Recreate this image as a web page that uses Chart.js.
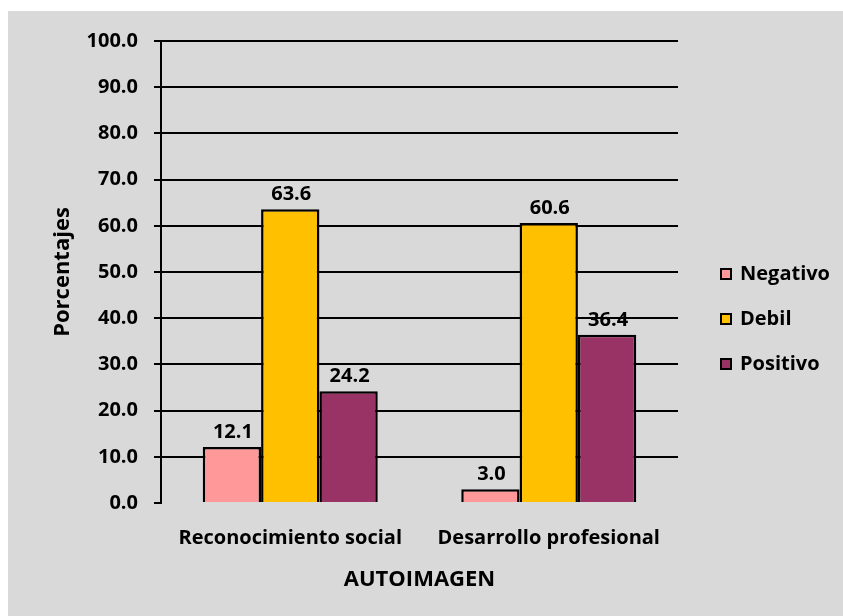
<!DOCTYPE html>
<html><head><meta charset="utf-8">
<script src="https://cdn.jsdelivr.net/npm/chart.js@4/dist/chart.umd.min.js"></script>
<style>html,body{margin:0;padding:0;background:#fff;}#wrap{width:843px;height:616px;}</style>
</head><body><div id="wrap"><canvas id="c" width="843" height="616"></canvas></div>
<script>
const categories = ['Reconocimiento social', 'Desarrollo profesional'];
const negativo = [12.1, 3.0];
const debil = [63.6, 60.6];
const positivo = [24.2, 36.4];
const seriesNames = ['Negativo', 'Debil', 'Positivo'];
const seriesColors = ['#FF9999', '#FFC000', '#993366'];
const yTicks = [0, 10, 20, 30, 40, 50, 60, 70, 80, 90, 100];
const FONT = '"Open Sans"';
const FS = 20;

const bgPlugin = {
  id: 'bg',
  beforeDraw(chart) {
    const ctx = chart.ctx;
    ctx.save();
    ctx.fillStyle = '#D9D9D9';
    ctx.fillRect(8, 11, chart.width - 8, chart.height - 11);
    ctx.restore();
  }
};

const labelPlugin = {
  id: 'vals',
  afterDatasetsDraw(chart) {
    const ctx = chart.ctx;
    ctx.save();
    ctx.font = 'bold ' + FS + 'px ' + FONT;
    ctx.fillStyle = '#000';
    ctx.textAlign = 'center';
    ctx.textBaseline = 'alphabetic';
    chart.data.datasets.forEach((ds, i) => {
      chart.getDatasetMeta(i).data.forEach((bar, j) => {
        ctx.fillText(ds.data[j].toFixed(1), bar.x + 1, bar.y - 9);
      });
    });
    ctx.restore();
  }
};

const legendPlugin = {
  id: 'customLegend',
  afterDraw(chart) {
    const ctx = chart.ctx;
    ctx.save();
    ctx.font = 'bold ' + FS + 'px ' + FONT;
    ctx.textBaseline = 'middle';
    chart.data.datasets.forEach((ds, i) => {
      const cy = 274 + i * 45;
      ctx.fillStyle = ds.backgroundColor;
      ctx.fillRect(721, cy - 5, 10, 10);
      ctx.lineWidth = 2;
      ctx.strokeStyle = '#000';
      ctx.strokeRect(721, cy - 5, 10, 10);
      ctx.fillStyle = '#000';
      ctx.textAlign = 'left';
      ctx.fillText(ds.label, 740, cy);
    });
    ctx.restore();
  }
};

const seriesData = [negativo, debil, positivo];
new Chart(document.getElementById('c'), {
  type: 'bar',
  data: {
    labels: categories,
    datasets: seriesNames.map((n, i) => ({
      label: n,
      data: seriesData[i],
      backgroundColor: seriesColors[i],
      borderColor: '#000',
      borderWidth: 2.5,
      categoryPercentage: 0.677,
      barPercentage: 1
    }))
  },
  options: {
    responsive: false,
    animation: false,
    layout: { padding: { left: 8, right: 165, top: 41, bottom: 20 } },
    plugins: { legend: { display: false }, tooltip: { enabled: false } },
    scales: {
      x: {
        grid: { display: false, drawTicks: false },
        border: { display: false },
        ticks: { color: '#000', font: { family: FONT, size: FS, weight: 'bold' }, padding: 23 },
        title: { display: true, text: 'AUTOIMAGEN', color: '#000', font: { family: FONT, size: 22, weight: 'bold' }, padding: { top: 0, bottom: 3 } },
        afterFit(s) { s.height = 616 - 503 - 20; }
      },
      y: {
        min: 0, max: 100,
        afterBuildTicks(s) { s.ticks = yTicks.map(v => ({ value: v })); },
        grid: {
          color: c => (c.tick && c.tick.value === 0) ? 'rgba(0,0,0,0)' : '#000',
          tickColor: '#000', lineWidth: 2, tickLength: 7
        },
        border: { display: true, color: '#000', width: 2 },
        ticks: { color: '#000', font: { family: FONT, size: FS, weight: 'bold' }, padding: 16,
          callback: v => Number(v).toFixed(1) },
        title: { display: true, text: 'Porcentajes', color: '#000', font: { family: FONT, size: 22, weight: 'bold' }, padding: { top: 42, bottom: 0 } },
        afterFit(s) { s.width = 161 - 8; }
      }
    }
  },
  plugins: [bgPlugin, labelPlugin, legendPlugin]
});
</script></body></html>
